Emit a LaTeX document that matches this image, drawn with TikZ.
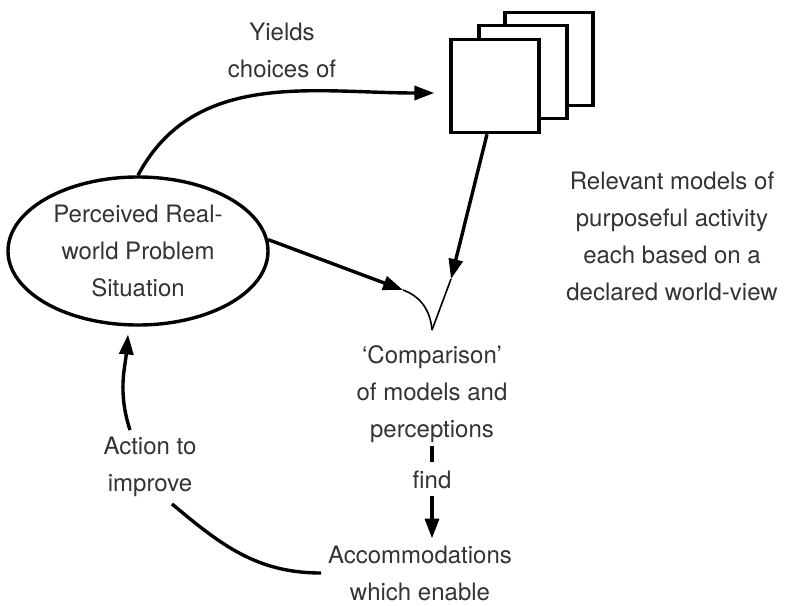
\documentclass[tikz,border=0pt]{standalone}
\usepackage{fontspec}
\setmainfont{TeX Gyre Heros}
\usetikzlibrary{arrows.meta,shapes.geometric}

\begin{document}
\begin{tikzpicture}[x=0.5pt,y=-0.5pt,>={Triangle[length=10pt,width=7pt]},
        lbl/.style={align=center,font=\fontsize{12}{18.5}\selectfont,text=black!80},
        card/.style={draw,line width=1.7pt,fill=white,minimum width=44pt,minimum height=46.5pt,inner sep=0pt},
        thk/.style={line width=1.7pt},
        thn/.style={line width=0.8pt}]
                \useasboundingbox (0,0) rectangle (797,605);

                % the situation
                \node[lbl,ellipse,draw=black,line width=1.7pt,minimum width=130pt,minimum height=74pt,inner sep=0pt] (prob) at(138,251) {Perceived Real-\\world Problem\\Situation};

                % stack of models
                \node[card] (mod3) at(549,59) {};
                \node[card] (mod2) at(523,72) {};
                \node[card] (mod1) at(495,86) {};

                \node[lbl] (yields) at(282,50) {Yields\\choices of};
                \node[lbl] (relev) at(672,236) {Relevant models of\\purposeful activity\\each based on a\\declared world-view};

                \node[lbl] (cmp) at(432,394) {`Comparison'\\of models and\\perceptions};
                \node[lbl] (find) at(432,480) {find};
                \node[lbl] (acc) at(420,573) {Accommodations\\which enable};
                \node[lbl] (action) at(150,467) {Action to\\improve};

                \coordinate (jn) at(432,330);
                \coordinate (tipA) at(403,290);
                \coordinate (tipB) at(451,279);

                \draw[thk,->] (prob.north) to[out=62,in=180] ([xshift=-7.5pt,yshift=-3.5pt]mod1.west);

                \draw[thk,->] ([xshift=-4pt]mod1.south) -- (tipB);
                \draw[thn] (tipB) -- (jn);
                \draw[thk,->] (prob.5) -- (tipA);
                \draw[thn] (tipA) to[out=-20,in=95] (jn);

                \draw[thk,shorten <=-2pt,shorten >=1pt] (cmp.south) -- (find.north);
                \draw[thk,->] (find.south) -- (find.south |- acc.north);

                \draw[thk] (acc.west) to[out=180,in=-40] ([xshift=11pt]action.south);
                \draw[thk,->,shorten >=4pt] ([xshift=-10pt]action.north) to[out=108,in=-95] (prob.-97);
            \end{tikzpicture}
\end{document}
